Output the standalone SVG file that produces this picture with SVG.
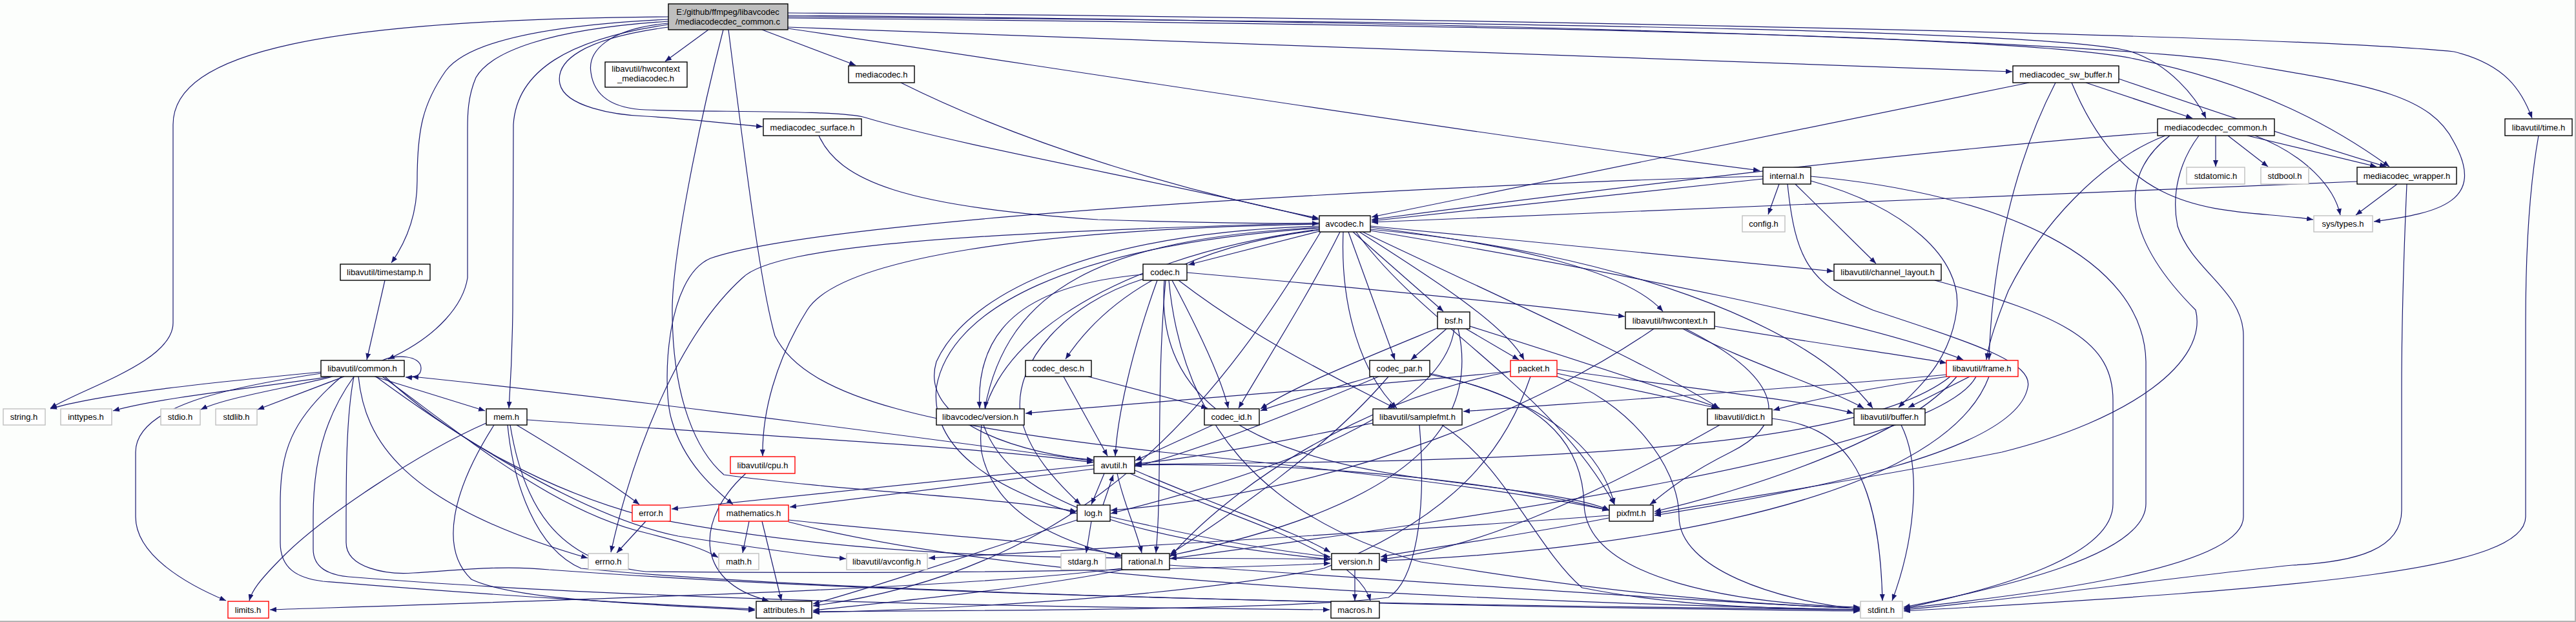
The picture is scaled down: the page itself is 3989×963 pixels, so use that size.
<svg xmlns="http://www.w3.org/2000/svg" width="3989" height="963" viewBox="0 0 3989 963">
<style>
.n rect{fill:#fff;stroke:#000;stroke-width:1.4}
.g rect{stroke:#bfbfbf}
.r rect{stroke:#f00}
text{font-family:"Liberation Sans",Arial,sans-serif;font-size:13px;text-anchor:middle;fill:#000}
#edges path{fill:none;stroke:#191970;stroke-width:1.2;marker-end:url(#a)}
</style>
<defs>
<marker id="a" viewBox="0 0 10 8" refX="10" refY="4" markerWidth="10" markerHeight="8" markerUnits="userSpaceOnUse" orient="auto"><path d="M0,0 L10,4 L0,8 z" fill="#191970"/></marker>
</defs>
<rect x="0" y="0" width="3989" height="963" fill="#fcfefc"/>
<path d="M0,962 H3988 V0" fill="none" stroke="#b4b4b4" stroke-width="2"/>
<g id="edges">
<!-- main -->
<path d="M1035,26 C500,30 268,80 268,193 L268,500 C268,560 130,600 78,632"/>
<path d="M1035,30 C820,40 720,70 690,110 C655,160 646,200 646,280 C646,340 625,380 606,407"/>
<path d="M1035,33 C850,45 760,80 737,120 C724,150 724,180 724,200 L724,430 C718,470 680,520 601,556"/>
<path d="M1035,38 C880,60 800,110 795,193 L794,480 C793,560 790,600 788,632"/>
<path d="M1097,46 L1030,95"/>
<path d="M1180,46 L1325,101"/>
<path d="M1035,42 C900,60 860,95 867,130 C875,165 950,178 1000,180 C1080,185 1140,193 1181,196"/>
<path d="M1035,36 C940,45 910,80 915,112 C920,150 950,168 1000,170 C1100,174 1300,170 1340,182 C1500,230 1850,290 2042,340"/>
<path d="M1120,46 C1080,200 1041,400 1041,480 C1041,620 1080,700 1121,735 C1300,760 1550,770 1667,792"/>
<path d="M1128,46 C1160,300 1180,450 1200,520 C1250,620 1450,660 1800,700 C2100,730 2350,760 2491,790"/>
<path d="M1220,20 C2000,25 3500,50 3800,80 C3880,100 3905,140 3921,183"/>
<path d="M1220,24 C2500,35 3300,70 3450,95 C3650,130 3760,140 3800,220 C3850,310 3780,330 3676,343"/>
<path d="M1220,28 C2500,40 3150,60 3300,90 C3500,130 3620,200 3700,258"/>
<path d="M1220,26 C2500,35 3200,50 3300,80 C3360,100 3400,150 3416,183"/>
<path d="M1220,42 L3116,111"/>
<path d="M1220,44 C1600,100 2300,210 2725,264"/>
<!-- mediacodec / surface / sw_buffer / mdc_common / wrapper -->
<path d="M1395,128 C1600,230 1850,300 2042,338"/>
<path d="M1268,210 C1300,280 1400,320 1700,340 C1850,345 1950,346 2042,346"/>
<path d="M3142,128 L2124,336"/>
<path d="M3183,128 C3120,250 3085,400 3080,557"/>
<path d="M3208,128 C3300,350 3450,320 3582,340"/>
<path d="M3230,128 L3395,183"/>
<path d="M3281,122 C3450,180 3600,230 3695,258"/>
<path d="M3341,205 C3000,230 2500,290 2124,340"/>
<path d="M3431,210 L3431,258"/>
<path d="M3450,210 L3512,258"/>
<path d="M3492,210 C3570,240 3615,290 3624,333"/>
<path d="M3480,210 L3680,258"/>
<path d="M3353,210 C3250,250 3160,350 3110,450 C3090,500 3080,530 3076,557"/>
<path d="M3360,210 C3270,280 3300,380 3400,480 C3420,560 3300,650 3100,700 C2900,740 2700,770 2562,795"/>
<path d="M3405,210 C3375,250 3362,300 3372,350 C3395,420 3474,450 3474,520 L3474,800 C3474,880 3150,920 2948,942"/>
<path d="M3650,281 L2124,344"/>
<path d="M3712,285 L3648,333"/>
<path d="M3727,285 C3722,400 3719,500 3719,600 L3719,790 C3719,850 3650,870 3550,875 C3400,890 3100,930 2948,944"/>
<path d="M3931,210 C3915,300 3911,400 3911,500 L3911,800 C3911,880 3600,910 2948,946"/>
<!-- internal -->
<path d="M2730,277 L2124,342"/>
<path d="M2755,285 L2738,332"/>
<path d="M2780,285 L2905,408"/>
<path d="M2804,280 C2950,320 3040,400 3030,480 C3020,560 2970,600 2940,631"/>
<path d="M2768,285 C2780,400 2800,440 2900,480 C3050,530 3150,560 3140,600 C3120,700 2800,760 2562,798"/>
<path d="M2804,273 C3100,300 3320,400 3323,560 L3323,780 C3323,860 3100,910 2948,940"/>
<path d="M2730,273 C2400,280 1300,330 1100,400 C1030,430 1025,600 1040,650 C1060,720 1110,760 1135,781"/>
<!-- channel layout / frame -->
<path d="M2996,434 C3200,490 3272,530 3272,620 L3272,780 C3272,860 3100,910 2948,942"/>
<path d="M3015,580 C2800,600 2500,620 2266,637"/>
<path d="M3015,583 C2900,600 2800,620 2746,635"/>
<path d="M3050,583 L2955,631"/>
<path d="M3020,583 C2900,680 2500,710 2000,716 L1758,719"/>
<path d="M3030,583 C2950,680 2700,760 2562,792"/>
<path d="M3060,583 C3000,700 2300,800 1812,865"/>
<path d="M3080,583 C3000,800 2400,860 2138,868"/>
<!-- avcodec -->
<path d="M2043,358 L1840,410"/>
<path d="M2043,356 C1850,380 1720,450 1650,556"/>
<path d="M2075,359 C2030,450 1960,560 1918,632"/>
<path d="M2043,352 C1700,370 1560,450 1525,632"/>
<path d="M2043,350 C1700,360 1500,450 1450,560 C1420,660 1600,705 1693,712"/>
<path d="M2043,353 C1650,380 1470,480 1450,600 C1440,700 1550,760 1667,795"/>
<path d="M2043,355 C1700,400 1500,550 1520,700 C1540,800 1650,840 1736,862"/>
<path d="M2043,347 C1600,355 1300,400 1250,480 C1200,560 1180,640 1181,706"/>
<path d="M2043,345 C1500,360 1200,380 1150,430 C1050,520 980,700 946,855"/>
<path d="M2045,359 C1900,600 1700,880 1259,938"/>
<path d="M2095,359 L2235,482"/>
<path d="M2088,359 L2160,557"/>
<path d="M2080,359 C2075,480 2110,580 2163,632"/>
<path d="M2105,359 C2200,420 2330,500 2360,557"/>
<path d="M2122,352 C2350,380 2520,420 2575,482"/>
<path d="M2110,359 C2300,450 2550,560 2662,632"/>
<path d="M2122,355 C2500,390 2800,500 2900,632"/>
<path d="M2122,357 C2500,420 2900,500 3040,557"/>
<path d="M2122,350 L2839,420"/>
<path d="M2100,359 C2200,500 2400,600 2500,781"/>
<!-- codec.h -->
<path d="M1770,425 C1600,440 1510,500 1517,632"/>
<path d="M1770,432 C1650,470 1570,560 1580,640 C1590,700 1640,750 1673,781"/>
<path d="M1792,434 C1750,550 1730,650 1727,706"/>
<path d="M1815,434 C1850,500 1890,580 1902,632"/>
<path d="M1825,434 C1950,530 2080,590 2160,632"/>
<path d="M1838,422 C2100,445 2350,470 2516,490"/>
<path d="M1803,434 C1790,600 1900,700 2200,740 C2350,760 2450,770 2492,790"/>
<path d="M1805,434 C1790,600 1800,750 1790,856"/>
<path d="M1810,434 C1830,650 1950,800 2200,870 C2500,920 2700,935 2880,942"/>
<!-- codec_desc / codec_id -->
<path d="M1647,583 L1715,706"/>
<path d="M1685,583 L1870,632"/>
<path d="M1878,658 L1758,713"/>
<!-- bsf -->
<path d="M2240,509 L2185,557"/>
<path d="M2270,509 L2352,557"/>
<path d="M2276,505 C2450,560 2600,610 2663,632"/>
<path d="M2226,508 C2100,560 2000,600 1952,633"/>
<path d="M2252,509 C2240,600 2100,700 1720,795"/>
<path d="M2258,509 C2290,650 2200,780 1812,860"/>
<!-- hwcontext -->
<path d="M2606,509 C2700,560 2830,600 2886,632"/>
<path d="M2655,505 C2800,530 2950,550 3014,562"/>
<path d="M2561,509 C2400,620 2100,760 1720,790"/>
<path d="M2610,509 C2750,580 2780,650 2680,700 C2600,740 2570,770 2555,781"/>
<!-- codec_par -->
<path d="M2125,583 C2050,605 1980,625 1952,636"/>
<path d="M2135,583 C2000,640 1850,700 1758,722"/>
<path d="M2150,583 C2050,700 1900,800 1812,858"/>
<path d="M2214,578 C2400,620 2480,700 2500,781"/>
<path d="M2214,580 C2380,610 2450,680 2453,780 C2455,900 2700,935 2880,940"/>
<!-- packet -->
<path d="M2411,578 L2660,632"/>
<path d="M2411,572 C2600,600 2800,620 2870,640"/>
<path d="M2411,583 C2520,620 2600,720 2600,800 C2600,880 2750,930 2880,943"/>
<path d="M2370,583 C2330,700 2250,800 2050,880 C1800,930 1400,945 1259,948"/>
<path d="M2340,575 C2100,620 1900,760 1812,862"/>
<path d="M2339,575 C2100,600 1800,620 1588,640"/>
<!-- samplefmt / dict / buffer -->
<path d="M2126,655 C2000,680 1850,710 1758,718"/>
<path d="M2233,658 C2330,720 2380,850 2450,910 C2600,940 2750,942 2880,944"/>
<path d="M2198,658 C2210,800 2190,900 2150,925 C2000,945 1500,945 1259,947"/>
<path d="M2744,648 C2850,660 2910,720 2915,930"/>
<path d="M2663,658 C2500,750 2300,850 2138,866"/>
<path d="M2944,658 C2980,730 2960,850 2930,930"/>
<!-- pixfmt / version / lavc version -->
<path d="M2491,798 C2200,820 1700,850 1438,864"/>
<path d="M2491,802 C2350,830 2200,850 2138,862"/>
<path d="M2098,882 L2098,930"/>
<path d="M1523,658 C1560,760 1700,830 2060,866"/>
<!-- avutil -->
<path d="M1694,714 C1300,660 900,610 638,583"/>
<path d="M1694,720 L1040,788"/>
<path d="M1694,726 L1223,785"/>
<path d="M1710,733 L1690,781"/>
<path d="M1730,733 C1740,780 1760,820 1768,856"/>
<path d="M1757,728 C1900,790 2000,820 2060,855"/>
<path d="M1750,733 C1900,800 2100,850 2122,930"/>
<path d="M1757,720 C2000,715 2300,740 2491,790"/>
<!-- log -->
<path d="M1708,782 L1724,735"/>
<path d="M1690,807 L1682,856"/>
<path d="M1668,805 C1500,860 1350,910 1259,935"/>
<path d="M1719,800 C1850,830 1950,850 2060,862"/>
<!-- rational -->
<path d="M1737,880 C1500,910 1000,925 418,944"/>
<path d="M1740,882 C1600,910 1400,930 1259,945"/>
<path d="M1811,875 C2200,900 2600,930 2880,942"/>
<!-- mathematics -->
<path d="M1160,807 L1150,856"/>
<path d="M1180,807 L1210,930"/>
<path d="M1221,805 C1450,830 1650,840 1737,860"/>
<path d="M1221,808 C1500,880 2000,925 2880,944"/>
<!-- cpu / error -->
<path d="M1155,733 C1080,800 1070,900 1190,930"/>
<path d="M1000,807 L955,856"/>
<!-- mem -->
<path d="M753,655 C650,700 500,800 440,860 C400,900 390,915 386,930"/>
<path d="M800,658 C870,700 950,750 990,781"/>
<path d="M816,650 C1100,670 1500,690 1693,716"/>
<path d="M765,658 C700,760 680,850 730,897 C800,930 1000,935 1169,945"/>
<path d="M786,658 C795,750 830,850 900,880 C1300,920 2300,940 2880,946"/>
<path d="M790,658 C810,780 860,870 1000,885 C1500,890 1900,880 2060,872"/>
<!-- common / timestamp -->
<path d="M596,434 L568,557"/>
<path d="M592,558 C612,548 652,550 652,570 C652,582 642,585 628,584"/>
<path d="M497,576 C350,590 150,610 78,633"/>
<path d="M512,583 C400,600 250,615 175,636"/>
<path d="M515,583 C450,600 350,615 311,634"/>
<path d="M533,583 L399,634"/>
<path d="M580,583 L751,636"/>
<path d="M497,578 C350,600 210,630 210,700 L210,800 C210,860 290,905 350,930"/>
<path d="M555,583 C565,680 620,780 910,864"/>
<path d="M592,583 C700,660 850,790 1000,825 C1060,840 1090,850 1112,863"/>
<path d="M582,583 C700,670 900,800 1050,830 C1150,845 1250,860 1310,865"/>
<path d="M548,583 C535,650 536,750 536,840 C536,880 600,890 640,887 C720,882 780,875 850,882 C1500,930 2500,940 2880,944"/>
<path d="M529,583 C450,650 434,700 434,780 L434,840 C434,880 460,895 500,900 C800,925 1000,935 1169,943"/>
<path d="M548,583 C500,650 485,720 485,800 L485,850 C485,880 510,890 540,893 C1000,930 1600,940 2059,944"/>
<path d="M596,583 C700,680 850,760 1000,800 C1400,880 1800,860 2060,866"/>
</g>
<g id="n_main" class="n"><rect x="1035" y="6" width="185" height="40" style="fill:#bfbfbf"/><text x="1127" y="23">E:/github/ffmpeg/libavcodec</text><text x="1127" y="38">/mediacodecdec_common.c</text></g>
<g id="n_hwctx_mc" class="n"><rect x="937" y="96" width="127" height="39"/><text x="1000" y="111">libavutil/hwcontext</text><text x="1000" y="126">_mediacodec.h</text></g>
<g id="n_mediacodec" class="n"><rect x="1314" y="102" width="102" height="26"/><text x="1365" y="120">mediacodec.h</text></g>
<g id="n_surface" class="n"><rect x="1182" y="184" width="152" height="26"/><text x="1258" y="202">mediacodec_surface.h</text></g>
<g id="n_timestamp" class="n"><rect x="527" y="409" width="139" height="25"/><text x="596" y="426">libavutil/timestamp.h</text></g>
<g id="n_codec" class="n"><rect x="1770" y="409" width="68" height="25"/><text x="1804" y="426">codec.h</text></g>
<g id="n_avcodec" class="n"><rect x="2043" y="334" width="79" height="25"/><text x="2082" y="351">avcodec.h</text></g>
<g id="n_internal" class="n"><rect x="2730" y="259" width="74" height="26"/><text x="2767" y="277">internal.h</text></g>
<g id="n_config" class="n g"><rect x="2698" y="334" width="66" height="25"/><text x="2731" y="351">config.h</text></g>
<g id="n_channel_layout" class="n"><rect x="2840" y="409" width="166" height="25"/><text x="2923" y="426">libavutil/channel_layout.h</text></g>
<g id="n_sw_buffer" class="n"><rect x="3117" y="102" width="164" height="26"/><text x="3199" y="120">mediacodec_sw_buffer.h</text></g>
<g id="n_mdc_common" class="n"><rect x="3341" y="184" width="181" height="26"/><text x="3431" y="202">mediacodecdec_common.h</text></g>
<g id="n_time" class="n"><rect x="3879" y="184" width="104" height="26"/><text x="3931" y="202">libavutil/time.h</text></g>
<g id="n_stdatomic" class="n g"><rect x="3386" y="259" width="90" height="26"/><text x="3431" y="277">stdatomic.h</text></g>
<g id="n_stdbool" class="n g"><rect x="3501" y="259" width="74" height="26"/><text x="3538" y="277">stdbool.h</text></g>
<g id="n_wrapper" class="n"><rect x="3650" y="259" width="154" height="26"/><text x="3727" y="277">mediacodec_wrapper.h</text></g>
<g id="n_systypes" class="n g"><rect x="3583" y="334" width="91" height="25"/><text x="3628" y="351">sys/types.h</text></g>
<g id="n_common" class="n"><rect x="497" y="558" width="129" height="25"/><text x="561" y="575">libavutil/common.h</text></g>
<g id="n_string" class="n g"><rect x="5" y="633" width="65" height="25"/><text x="37" y="650">string.h</text></g>
<g id="n_inttypes" class="n g"><rect x="94" y="633" width="79" height="25"/><text x="133" y="650">inttypes.h</text></g>
<g id="n_stdio" class="n g"><rect x="249" y="633" width="61" height="25"/><text x="279" y="650">stdio.h</text></g>
<g id="n_stdlib" class="n g"><rect x="334" y="633" width="64" height="25"/><text x="366" y="650">stdlib.h</text></g>
<g id="n_mem" class="n"><rect x="753" y="633" width="63" height="25"/><text x="784" y="650">mem.h</text></g>
<g id="n_errno" class="n g"><rect x="911" y="857" width="62" height="25"/><text x="942" y="874">errno.h</text></g>
<g id="n_limits" class="n r"><rect x="353" y="931" width="63" height="26"/><text x="384" y="949">limits.h</text></g>
<g id="n_error" class="n r"><rect x="979" y="782" width="59" height="25"/><text x="1008" y="799">error.h</text></g>
<g id="n_codec_desc" class="n"><rect x="1588" y="558" width="102" height="25"/><text x="1639" y="575">codec_desc.h</text></g>
<g id="n_lavc_version" class="n"><rect x="1450" y="633" width="136" height="25"/><text x="1518" y="650">libavcodec/version.h</text></g>
<g id="n_codec_id" class="n"><rect x="1865" y="633" width="85" height="25"/><text x="1907" y="650">codec_id.h</text></g>
<g id="n_cpu" class="n r"><rect x="1131" y="707" width="100" height="26"/><text x="1181" y="725">libavutil/cpu.h</text></g>
<g id="n_avutil" class="n"><rect x="1694" y="707" width="63" height="26"/><text x="1725" y="725">avutil.h</text></g>
<g id="n_mathematics" class="n r"><rect x="1113" y="782" width="108" height="25"/><text x="1167" y="799">mathematics.h</text></g>
<g id="n_log" class="n"><rect x="1668" y="782" width="51" height="25"/><text x="1693" y="799">log.h</text></g>
<g id="n_math" class="n g"><rect x="1113" y="857" width="62" height="25"/><text x="1144" y="874">math.h</text></g>
<g id="n_avconfig" class="n g"><rect x="1311" y="857" width="125" height="25"/><text x="1373" y="874">libavutil/avconfig.h</text></g>
<g id="n_stdarg" class="n g"><rect x="1643" y="857" width="69" height="25"/><text x="1677" y="874">stdarg.h</text></g>
<g id="n_rational" class="n"><rect x="1737" y="857" width="74" height="25"/><text x="1774" y="874">rational.h</text></g>
<g id="n_attributes" class="n"><rect x="1171" y="931" width="86" height="26"/><text x="1214" y="949">attributes.h</text></g>
<g id="n_bsf" class="n"><rect x="2226" y="483" width="50" height="26"/><text x="2251" y="501">bsf.h</text></g>
<g id="n_hwcontext" class="n"><rect x="2517" y="483" width="138" height="26"/><text x="2586" y="501">libavutil/hwcontext.h</text></g>
<g id="n_codec_par" class="n"><rect x="2121" y="558" width="93" height="25"/><text x="2167" y="575">codec_par.h</text></g>
<g id="n_packet" class="n r"><rect x="2339" y="558" width="72" height="25"/><text x="2375" y="575">packet.h</text></g>
<g id="n_samplefmt" class="n"><rect x="2126" y="633" width="138" height="25"/><text x="2195" y="650">libavutil/samplefmt.h</text></g>
<g id="n_dict" class="n"><rect x="2644" y="633" width="100" height="25"/><text x="2694" y="650">libavutil/dict.h</text></g>
<g id="n_buffer" class="n"><rect x="2871" y="633" width="110" height="25"/><text x="2926" y="650">libavutil/buffer.h</text></g>
<g id="n_pixfmt" class="n"><rect x="2492" y="782" width="68" height="25"/><text x="2526" y="799">pixfmt.h</text></g>
<g id="n_version" class="n"><rect x="2062" y="857" width="74" height="25"/><text x="2099" y="874">version.h</text></g>
<g id="n_macros" class="n"><rect x="2061" y="931" width="75" height="26"/><text x="2098" y="949">macros.h</text></g>
<g id="n_stdint" class="n g"><rect x="2881" y="931" width="65" height="26"/><text x="2913" y="949">stdint.h</text></g>
<g id="n_frame" class="n r"><rect x="3014" y="558" width="111" height="25"/><text x="3069" y="575">libavutil/frame.h</text></g>
</svg>
